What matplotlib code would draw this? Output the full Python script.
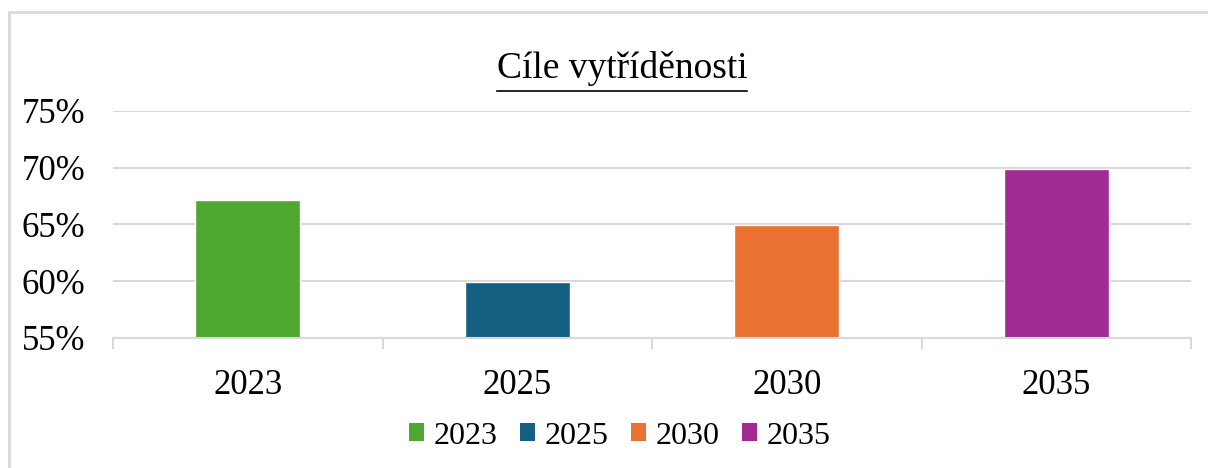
import matplotlib.pyplot as plt
from matplotlib.patches import Rectangle, Patch
from matplotlib.lines import Line2D
from matplotlib.ticker import FuncFormatter

# data
years = ['2023', '2025', '2030', '2035']
targets = [67.1, 59.9, 64.9, 69.9]
colors = ['#4EA72E', '#156082', '#E97132', '#A02B93']
title = 'Cíle vytříděnosti'

plt.rcParams['font.family'] = ['Liberation Serif', 'DejaVu Serif']

fig = plt.figure(figsize=(12.08, 4.68), dpi=100)
W, H = 1208, 468

# light grey chart border (runs off the right and bottom edge)
fig.patches.append(Rectangle((9 / W, -0.05), 1.1, 1 - 12 / H + 0.05,
                             transform=fig.transFigure, fill=False,
                             edgecolor='#d9d9d9', linewidth=2))

ax = fig.add_axes([113 / W, 1 - 338 / H, (1191 - 113) / W, (338 - 110.7) / H])

x = range(len(years))
ax.bar(x, targets, width=0.39, bottom=0, color=colors,
       edgecolor='white', linewidth=1, zorder=3)

ax.set_ylim(55, 75)
ax.set_xlim(-0.5, len(years) - 0.5)
ax.set_yticks([55, 60, 65, 70, 75])
ax.yaxis.set_major_formatter(FuncFormatter(lambda v, p: f'{v:.0f}%'))
ax.grid(axis='y', color='#d9d9d9', linewidth=1.5, zorder=0)
ax.set_axisbelow(True)

for s in ['top', 'right', 'left']:
    ax.spines[s].set_visible(False)
ax.spines['bottom'].set_color('#d9d9d9')
ax.spines['bottom'].set_linewidth(1.5)
ax.spines['bottom'].set_zorder(4)

ax.set_xticks(x)
ax.set_xticklabels(years)
ax.tick_params(axis='x', length=0, pad=22, labelsize=25)
ax.tick_params(axis='y', length=0, pad=20, labelsize=25)

# category separator ticks below the axis
for b in [-0.5, 0.5, 1.5, 2.5, 3.5]:
    ax.plot([b, b], [0, -0.045], transform=ax.get_xaxis_transform(),
            color='#d9d9d9', linewidth=1.5, clip_on=False)

# underlined title
t = fig.text(622 / W, 1 - 69 / H, title, ha='center', va='center', fontsize=27)
fig.canvas.draw()
bb = t.get_window_extent()
uy = 1 - 91 / H
fig.add_artist(Line2D([bb.x0 / W, bb.x1 / W], [uy, uy], color='black', linewidth=1.2))

handles = [Patch(facecolor=c, label=y) for c, y in zip(colors, years)]
fig.legend(handles=handles, loc='center', bbox_to_anchor=(620 / W, 1 - 436 / H),
           ncol=4, frameon=False, fontsize=23, handlelength=0.47, handleheight=0.47,
           handletextpad=0.3, columnspacing=0.7)

fig.savefig('out.png', dpi=100)
